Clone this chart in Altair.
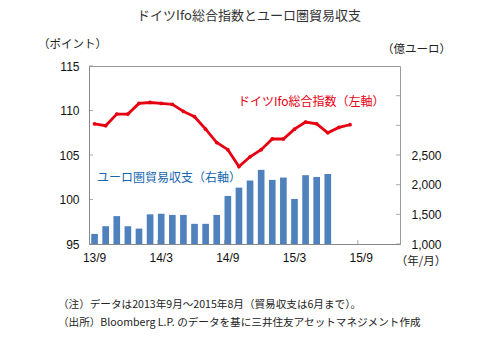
import altair as alt
import pandas as pd

months = ["13/9", "13/10", "13/11", "13/12",
          "14/1", "14/2", "14/3", "14/4", "14/5", "14/6", "14/7", "14/8", "14/9", "14/10", "14/11", "14/12",
          "15/1", "15/2", "15/3", "15/4", "15/5", "15/6", "15/7", "15/8", "15/9", "15/10", "15/11", "15/12"]
ifo = [108.5, 108.3, 109.6, 109.6, 110.8, 110.9, 110.8, 110.7, 109.9, 109.3, 107.9, 106.4,
       105.6, 103.7, 104.8, 105.6, 106.8, 106.8, 107.9, 108.7, 108.5, 107.5, 108.1, 108.4]
trade = [1170, 1300, 1470, 1300, 1260, 1500, 1510, 1490, 1490, 1340, 1340, 1490,
         1810, 1950, 2070, 2250, 2080, 2120, 1760, 2160, 2130, 2180]
x_label_months = ["13/9", "14/3", "14/9", "15/3", "15/9"]
x_tick_months = ["14/3", "14/9", "15/3", "15/9"]
left_ticks = [95, 100, 105, 110, 115]
right_ticks = [1000, 1500, 2000, 2500, 3000, 3500]

W, H = 311, 178
RED = "#e60012"
BLUE = "#4f81bd"
TXTBLUE = "#1565b0"
JP = "Noto Sans CJK JP"
NUM = "Liberation Sans"

ifo_df = pd.DataFrame({"month": months[:len(ifo)], "ifo": ifo})
trade_df = pd.DataFrame({"month": months[:len(trade)], "trade": trade})

xscale = alt.Scale(domain=months, paddingInner=0.4, paddingOuter=0.2)
lscale = alt.Scale(domain=[95, 115], nice=False, zero=False)
rscale = alt.Scale(domain=[1000, 4000], nice=False, zero=False)

xaxis = alt.Axis(values=x_label_months, title=None, ticks=False, domain=True,
                 domainColor="#888", labelAngle=0, labelFont=NUM, labelFontSize=12,
                 labelColor="#111", labelPadding=8, labelBaseline="top",
                 labelAlign="center")

bars = alt.Chart(trade_df).mark_bar(color=BLUE).encode(
    x=alt.X("month:O", scale=xscale, axis=xaxis),
    y=alt.Y("trade:Q", scale=rscale,
            axis=alt.Axis(orient="right", values=right_ticks, title=None, ticks=False,
                          domain=False, grid=False,
                          labelExpr="datum.value > 2500 ? '' : format(datum.value, ',')",
                          labelFont=NUM, labelFontSize=12, labelColor="#111",
                          labelPadding=11, labelAlign="left")),
    y2=alt.datum(1000),
)

line = alt.Chart(ifo_df).mark_line(
    color=RED, strokeWidth=2.8,
    point=alt.OverlayMarkDef(color=RED, size=14, filled=True)
).encode(
    x=alt.X("month:O", scale=xscale, axis=xaxis),
    y=alt.Y("ifo:Q", scale=lscale,
            axis=alt.Axis(orient="left", values=left_ticks, title=None, ticks=False,
                          domain=True, domainColor="#888", grid=False,
                          labelFont=NUM, labelFontSize=12, labelColor="#111",
                          labelPadding=10)),
)

lt = alt.Chart(pd.DataFrame({"v": left_ticks})).mark_tick(
    orient="horizontal", color="#888", size=4, thickness=1).encode(
    y=alt.Y("v:Q", scale=lscale, axis=None), x=alt.value(2))
rt = alt.Chart(pd.DataFrame({"v": right_ticks})).mark_tick(
    orient="horizontal", color="#888", size=4, thickness=1).encode(
    y=alt.Y("v:Q", scale=rscale, axis=None), x=alt.value(W - 2))
xt = alt.Chart(pd.DataFrame({"month": x_tick_months})).mark_tick(
    orient="vertical", color="#888", size=4, thickness=1).encode(
    x=alt.X("month:O", scale=xscale, bandPosition=0, axis=xaxis), y=alt.value(H - 2))


def txt(text, x, y, size=12, color="#222", align="left", font=JP):
    return alt.Chart(pd.DataFrame({"t": [text]})).mark_text(
        align=align, baseline="middle", font=font, fontSize=size, color=color
    ).encode(text="t:N", x=alt.value(x), y=alt.value(y))


texts = [
    txt("ドイツIfo総合指数とユーロ圏貿易収支", 160, -50, size=13, color="#333", align="center"),
    txt("（ポイント）", -16.5, -21, size=11.5, align="center"),
    txt("（億ユーロ）", 327.5, -16, size=11.5, align="center"),
    txt("（年/月）", 332, 196, size=11.5, align="center"),
    txt("ドイツIfo総合指数（左軸）", 149, 36, size=12, color=RED),
    txt("ユーロ圏貿易収支（右軸）", 8, 112, size=12, color=TXTBLUE),
    txt("（注）データは2013年9月～2015年8月（貿易収支は6月まで）。", -31, 239, size=10.6),
    txt("（出所）Bloomberg L.P. のデータを基に三井住友アセットマネジメント作成", -31, 256.5, size=10.6),
]

chart = alt.layer(bars, rt, line, lt, xt, *texts).resolve_scale(y="independent").properties(
    width=W, height=H,
    autosize=alt.AutoSizeParams(type="none"),
    padding={"left": 89, "top": 66, "right": 93, "bottom": 101},
    background="white",
).configure_view(stroke="#999", strokeWidth=1)

chart.save("out.html", embed_options={"renderer": "svg", "actions": False})
